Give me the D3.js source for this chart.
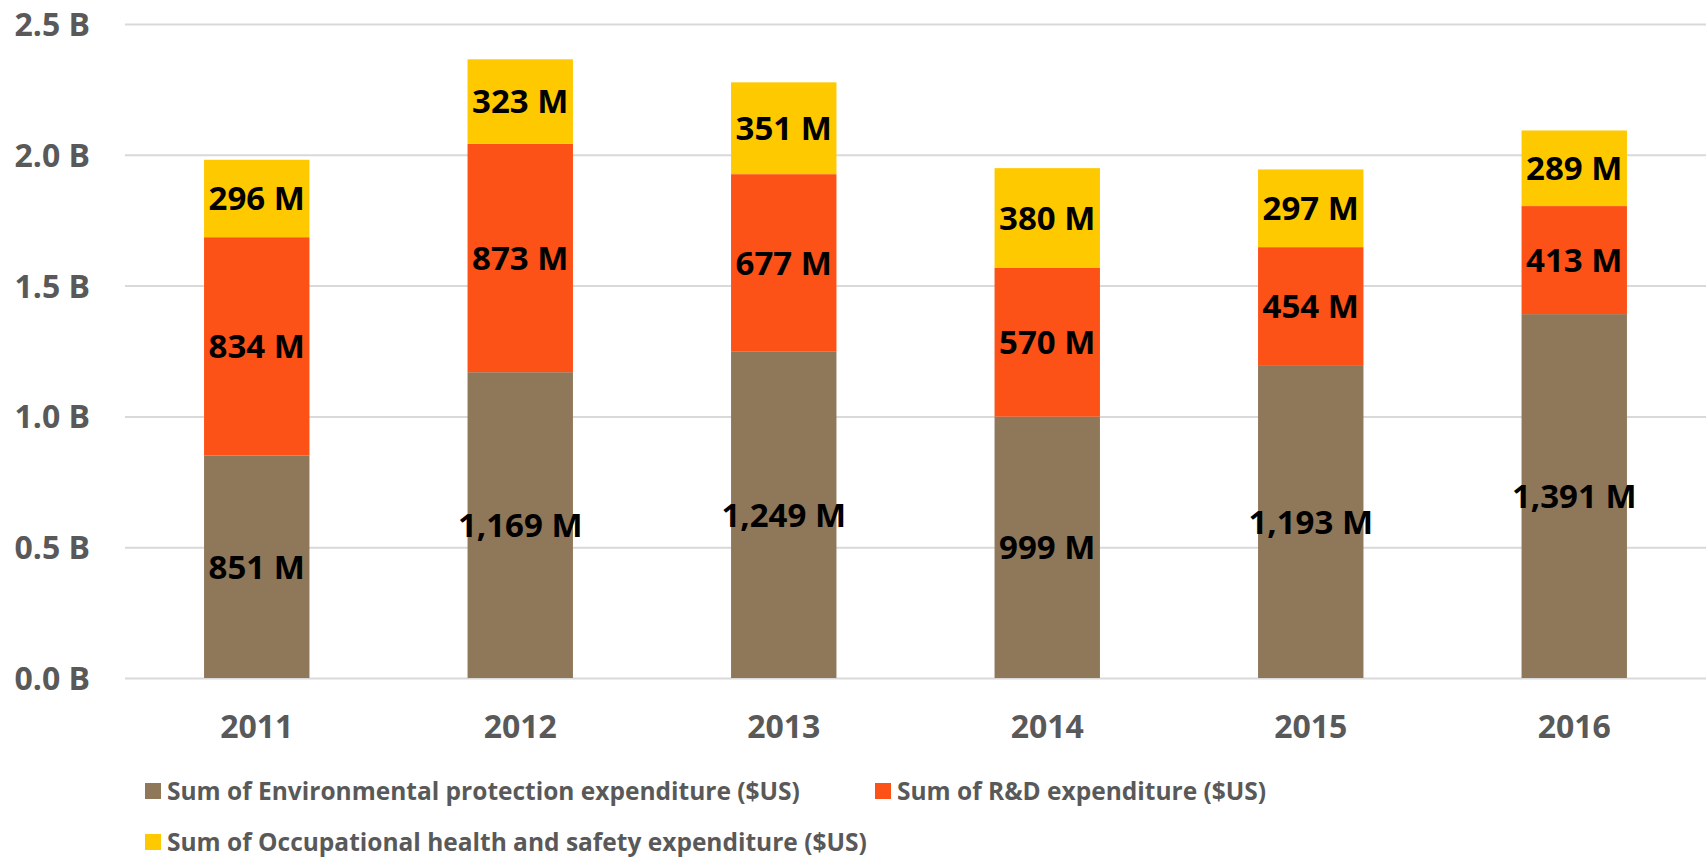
<!DOCTYPE html>
<html>
<head>
<meta charset="utf-8">
<script src="https://cdn.jsdelivr.net/npm/d3@7"></script>
<style>
  body { margin: 0; background: #fff; }
  svg text { font-family: "Open Sans", sans-serif; font-weight: 700; }
</style>
</head>
<body>
<svg id="chart"></svg>
<script>
// Categories and series (values in millions of $US)
var years = ["2011", "2012", "2013", "2014", "2015", "2016"];
var envValues = [851, 1169, 1249, 999, 1193, 1391];
var rdValues = [834, 873, 677, 570, 454, 413];
var ohsValues = [296, 323, 351, 380, 297, 289];
var seriesNames = [
  "Sum of Environmental protection expenditure ($US)",
  "Sum of R&D expenditure ($US)",
  "Sum of Occupational health and safety expenditure ($US)"
];
var seriesColors = ["#8f7759", "#fc5117", "#ffc900"];
var yTicks = [0, 500, 1000, 1500, 2000, 2500];

var W = 1708, H = 857;
var margin = {top: 24, right: 2, bottom: 179, left: 125};
var width = W - margin.left - margin.right;
var height = H - margin.top - margin.bottom;

var svg = d3.select("#chart").attr("width", W).attr("height", H);
var chart = svg.append("g")
  .attr("transform", "translate(" + margin.left + "," + margin.top + ")");

// Scales
var x = d3.scaleBand().domain(years).range([0, width])
  .paddingInner(0.6).paddingOuter(0.3);
var y = d3.scaleLinear().domain([0, 2500]).range([height, 0]);

// Grid + y axis
var yAxis = d3.axisLeft(y).tickValues(yTicks).tickSize(-width).tickPadding(35)
  .tickFormat(function(d) { return d3.format(".1f")(d / 1000) + " B"; });
var gy = chart.append("g").call(yAxis);
gy.select(".domain").remove();
gy.selectAll("line").attr("stroke", "#d9d9d9").attr("stroke-width", 2);
gy.selectAll("text").attr("fill", "#595959").style("font-size", "32px").attr("dy", "0.36em");

// Stack the data
var table = years.map(function(yr, i) {
  return {year: yr, env: envValues[i], rd: rdValues[i], ohs: ohsValues[i]};
});
var keys = ["env", "rd", "ohs"];
var stacked = d3.stack().keys(keys)(table);

var layer = chart.selectAll(".layer")
  .data(stacked)
  .enter()
.append("g")
  .attr("class", "layer")
  .attr("fill", function(d, i) { return seriesColors[i]; });

layer.selectAll("rect")
  .data(function(d) { return d; })
  .enter()
.append("rect")
  .attr("x", function(d) { return x(d.data.year); })
  .attr("y", function(d) { return y(d[1]); })
  .attr("height", function(d) { return y(d[0]) - y(d[1]); })
  .attr("width", x.bandwidth());

// Data labels centred in each segment
layer.selectAll("text")
  .data(function(d) { return d; })
  .enter()
.append("text")
  .attr("x", function(d) { return x(d.data.year) + x.bandwidth() / 2; })
  .attr("y", function(d) { return (y(d[0]) + y(d[1])) / 2; })
  .attr("dy", "0.36em")
  .attr("text-anchor", "middle")
  .attr("fill", "#000")
  .style("font-size", "33px")
  .text(function(d) { return d3.format(",")(d[1] - d[0]) + " M"; });

// X axis
var xAxis = d3.axisBottom(x).tickSize(0).tickPadding(37);
var gx = chart.append("g")
  .attr("transform", "translate(0," + height + ")")
  .call(xAxis);
gx.select(".domain").remove();
gx.selectAll("text").attr("fill", "#595959").style("font-size", "32px");

// Legend
var legendPos = [[145, 791], [875, 791], [145, 842]];
var legend = svg.selectAll(".legend")
  .data(seriesNames)
  .enter()
.append("g")
  .attr("class", "legend")
  .attr("transform", function(d, i) { return "translate(" + legendPos[i][0] + "," + legendPos[i][1] + ")"; });

legend.append("rect")
  .attr("x", 0).attr("y", -8)
  .attr("width", 16).attr("height", 16)
  .attr("fill", function(d, i) { return seriesColors[i]; });

legend.append("text")
  .attr("x", 22)
  .attr("dy", "0.36em")
  .attr("fill", "#595959")
  .style("font-size", "24.5px")
  .text(function(d) { return d; });
</script>
</body>
</html>
